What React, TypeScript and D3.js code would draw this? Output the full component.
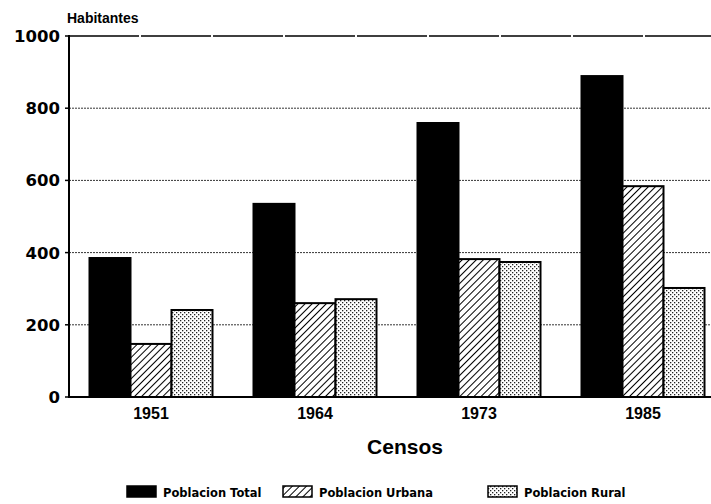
import React from "react";
import * as d3 from "d3";

const censos = ["1951", "1964", "1973", "1985"];
const poblacionTotal = [385, 535, 759, 889];
const poblacionUrbana = [147, 260, 382, 584];
const poblacionRural = [241, 271, 374, 302];
const yTicks = [0, 200, 400, 600, 800, 1000];
const seriesNames = ["Poblacion Total", "Poblacion Urbana", "Poblacion Rural"];

const W = 711;
const H = 504;
const FONT = "'Liberation Sans', Arial, sans-serif";
const WIDE = "'DejaVu Sans', sans-serif";

export default function App() {
  const left = 69;
  const x = d3
    .scaleBand<string>()
    .domain(censos)
    .range([left, 725])
    .paddingInner(0.25)
    .paddingOuter(0.125);
  const inner = d3
    .scaleBand<string>()
    .domain(seriesNames)
    .range([0, x.bandwidth()])
    .padding(0);
  const y = d3.scaleLinear().domain([0, 1000]).range([397, 36]);

  const series = [poblacionTotal, poblacionUrbana, poblacionRural];
  const fills = ["#000", "url(#hatch)", "url(#dots)"];

  const legendX = [127, 283, 488];

  return (
    <svg
      width={W}
      height={H}
      style={{ position: "absolute", left: 0, top: 0, background: "#fff" }}
      fontFamily={FONT}
    >
      <defs>
        <pattern id="hatch" patternUnits="userSpaceOnUse" width="5" height="5" patternTransform="rotate(45)">
          <rect width="5" height="5" fill="#fff" />
          <line x1="0" y1="0" x2="0" y2="5" stroke="#000" strokeWidth="2" />
        </pattern>
        <pattern id="dots" patternUnits="userSpaceOnUse" width="4" height="4">
          <rect width="4" height="4" fill="#fff" />
          <rect x="0" y="0" width="1.3" height="1.3" fill="#222" />
          <rect x="2" y="2" width="1.3" height="1.3" fill="#222" />
        </pattern>
      </defs>

      {/* gridlines */}
      {yTicks
        .filter((t) => t > 0 && t < 1000)
        .map((t) => (
          <line
            key={t}
            x1={left}
            x2={W}
            y1={y(t)}
            y2={y(t)}
            stroke="#000"
            strokeWidth={0.8}
            strokeDasharray="2 1"
          />
        ))}
      <line x1={left} x2={W} y1={y(1000)} y2={y(1000)} stroke="#000" strokeWidth={1.6} strokeDasharray="70 2" />

      {/* bars */}
      {censos.map((c, ci) => (
        <g key={c}>
          {series.map((s, si) => (
            <rect
              key={si}
              x={(x(c) as number) + (inner(seriesNames[si]) as number)}
              y={y(s[ci])}
              width={inner.bandwidth()}
              height={y(0) - y(s[ci])}
              fill={fills[si]}
              stroke="#000"
              strokeWidth={2}
            />
          ))}
        </g>
      ))}

      {/* axes */}
      <line x1={left} x2={left} y1={y(1000) - 1} y2={y(0) + 1} stroke="#000" strokeWidth={2} />
      <line x1={left - 1} x2={W} y1={y(0)} y2={y(0)} stroke="#000" strokeWidth={2} />
      {yTicks.map((t) => (
        <g key={t}>
          <line x1={left - 4} x2={left} y1={y(t)} y2={y(t)} stroke="#000" strokeWidth={1.5} />
          <text
            x={left - 9}
            y={y(t)}
            dy="0.36em"
            textAnchor="end"
            fontSize={16.5}
            fontWeight="bold"
            fontFamily={WIDE}
          >
            {t}
          </text>
        </g>
      ))}
      <text x={67} y={23} fontSize={14} fontWeight="bold">
        Habitantes
      </text>

      {censos.map((c) => (
        <text
          key={c}
          x={(x(c) as number) + x.bandwidth() / 2}
          y={419}
          textAnchor="middle"
          fontSize={16}
          fontWeight="bold"
        >
          {c}
        </text>
      ))}
      <text x={405} y={454} textAnchor="middle" fontSize={21} fontWeight="bold">
        Censos
      </text>

      {/* legend */}
      {seriesNames.map((n, i) => (
        <g key={n}>
          <rect
            x={legendX[i]}
            y={486}
            width={29}
            height={11}
            fill={fills[i]}
            stroke="#000"
            strokeWidth={1.5}
          />
          <text x={legendX[i] + 36} y={497} fontSize={11.5} fontWeight="bold" fontFamily={WIDE}>
            {n}
          </text>
        </g>
      ))}
    </svg>
  );
}
